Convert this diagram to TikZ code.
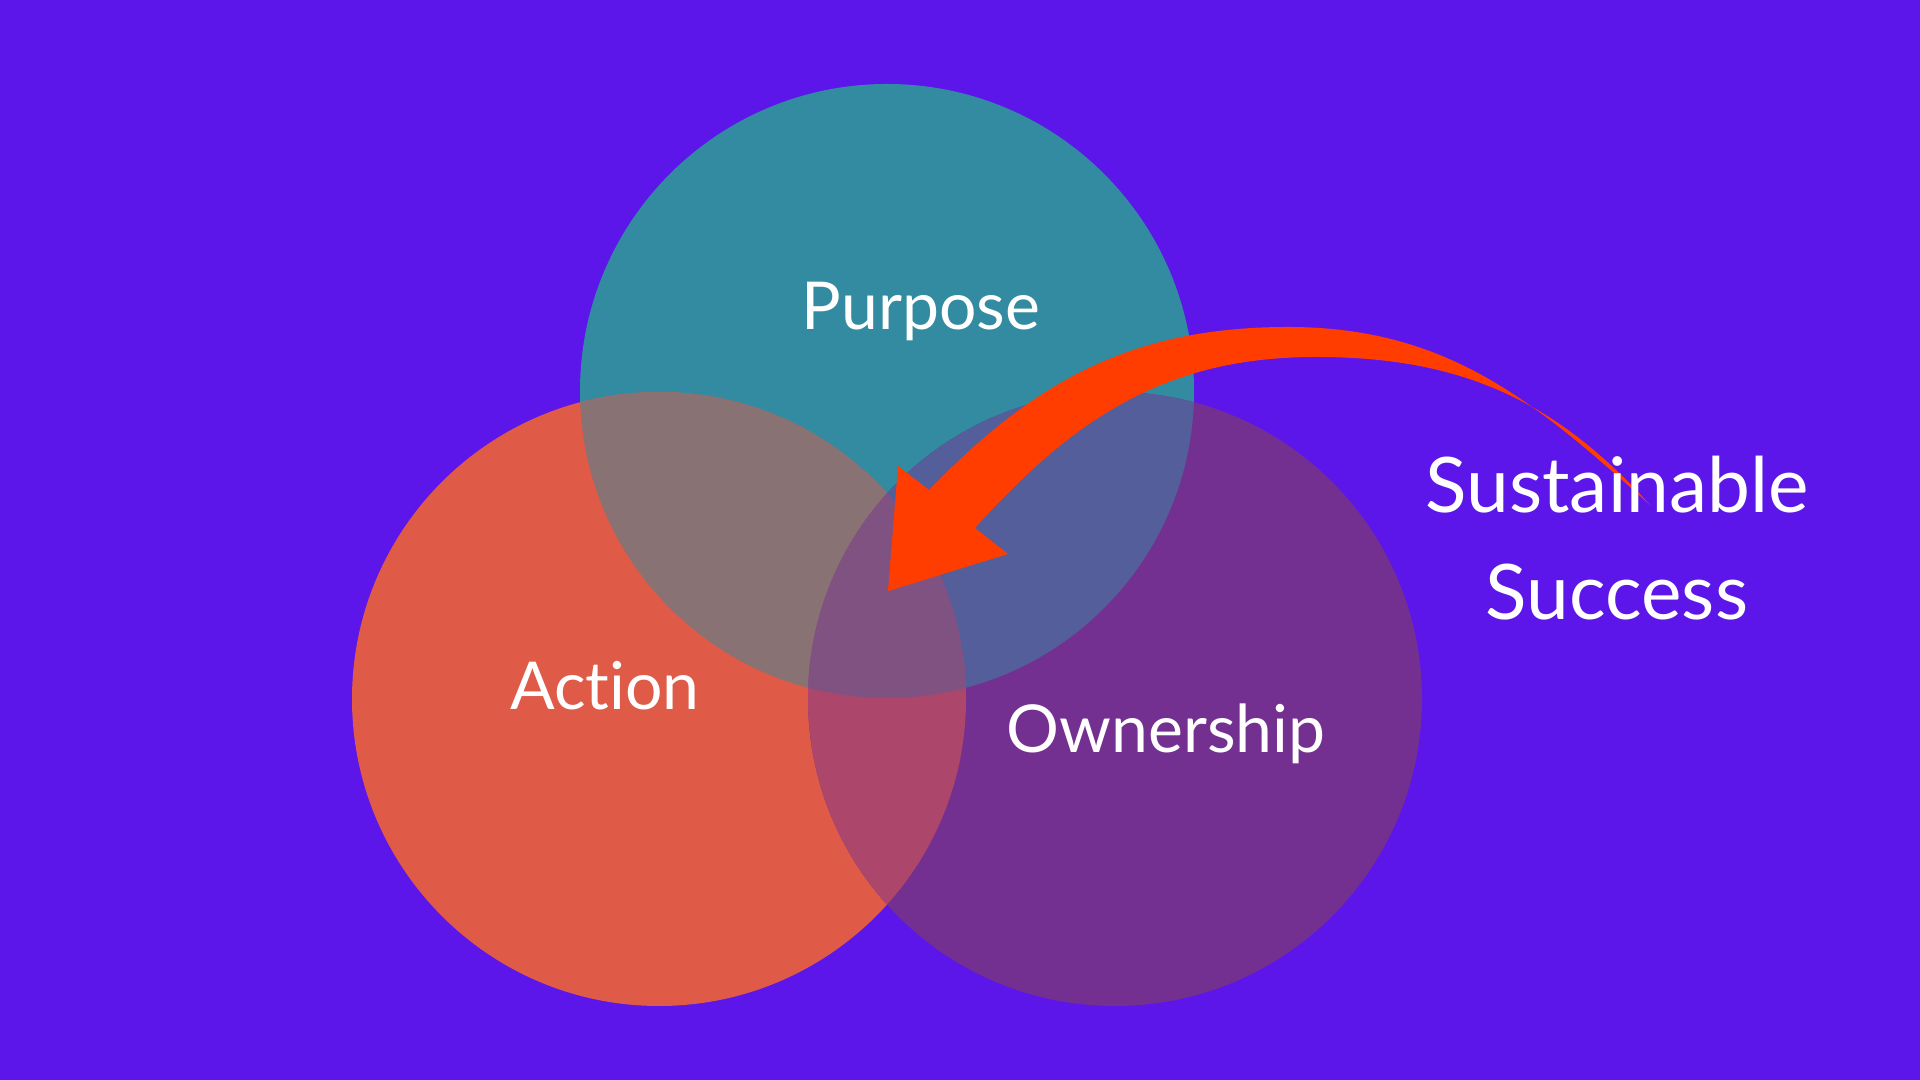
\documentclass[tikz,border=0pt]{standalone}
\usepackage{fontspec}
\setmainfont[Ligatures=NoCommon]{Lato}
\usepackage{tikz}

\definecolor{bgviolet}{RGB}{92,22,233}
\definecolor{purposeteal}{RGB}{51,139,161}
\definecolor{actioncoral}{RGB}{224,90,72}
\definecolor{ownerpurple}{RGB}{116,48,144}
\definecolor{purposeaction}{RGB}{136,114,116}
\definecolor{purposeowner}{RGB}{83,94,155}
\definecolor{actionowner}{RGB}{172,70,106}
\definecolor{allthree}{RGB}{128,82,130}
\definecolor{arroworange}{RGB}{255,61,0}

\begin{document}
\begin{tikzpicture}[vennlabel/.style = {text=white, inner sep=0pt, anchor=base, font=\fontsize{18.8}{22}\selectfont},
                    biglabel/.style = {text=white, inner sep=0pt, anchor=base, font=\fontsize{21.8}{26}\selectfont}]
          \useasboundingbox (0,0) rectangle (19.2,10.8);
          \fill[bgviolet] (0,0) rectangle (19.2,10.8);
          % circle centres
          \coordinate (purpose) at (8.87,6.89);
          \coordinate (action) at (6.59,3.81);
          \coordinate (ownership) at (11.15,3.81);
          \fill[purposeteal] (purpose) circle (3.07);
          \fill[actioncoral] (action) circle (3.07);
          \fill[ownerpurple] (ownership) circle (3.07);
          % overlaps
          \begin{scope}
            \clip (purpose) circle (3.07);
            \fill[purposeaction] (action) circle (3.07);
            \fill[purposeowner] (ownership) circle (3.07);
          \end{scope}
          \begin{scope}
            \clip (action) circle (3.07);
            \fill[actionowner] (ownership) circle (3.07);
          \end{scope}
          \begin{scope}
            \clip (purpose) circle (3.07);
            \clip (action) circle (3.07);
            \fill[allthree] (ownership) circle (3.07);
          \end{scope}
          % curved arrow
          \coordinate (tail) at (16.50,5.75);
          \coordinate (outertop) at (12.88,7.53);
          \coordinate (innertop) at (13.16,7.23);
          \coordinate (headout) at (9.29,5.90);
          \coordinate (headin) at (9.75,5.52);
          \coordinate (barbA) at (8.98,6.14);
          \coordinate (tip) at (8.88,4.89);
          \coordinate (barbB) at (10.08,5.26);
          \fill[arroworange] (tail) to[out=138,in=0] (outertop) to[out=180,in=46] (headout)
            -- (barbA) -- (tip) -- (barbB) -- (headin)
            to[out=48,in=180] (innertop) to[out=0,in=132] (tail) -- cycle;
          \node[vennlabel] (purposetext) at (9.21,7.50) {Purpose};
          \node[vennlabel] (actiontext) at (6.05,3.70) {Action};
          \node[vennlabel] (ownertext) at (11.66,3.27) {Ownership};
          \node[biglabel] (sustainable) at (16.17,5.67) {Sustainable};
          \node[biglabel] (success) at (16.17,4.60) {Success};
        \end{tikzpicture}
\end{document}
